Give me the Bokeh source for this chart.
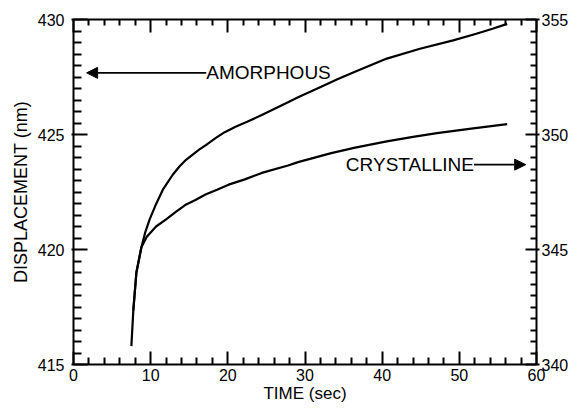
from bokeh.plotting import figure
from bokeh.models import (LinearAxis, Range1d, FixedTicker, Arrow,
                          NormalHead, Label, CustomLabelingPolicy)
from bokeh.embed import file_html
from bokeh.resources import INLINE

# ---- data ----
amor_t = [7.5, 7.75, 8.15, 8.8, 9.3, 9.87, 10.6, 11.58, 12.86, 13.7, 14.58,
          16.28, 17.2, 18.4, 19.6, 21.0, 22.5, 24.4, 27.8, 29.1, 32.1, 34.2,
          36.4, 40.6, 44.9, 49.2, 52.2, 54.3, 56.2]
amor_nm = [415.8, 417.35, 419.0, 420.1, 420.75, 421.31, 421.9, 422.6, 423.25,
           423.6, 423.9, 424.34, 424.55, 424.84, 425.1, 425.34, 425.55,
           425.85, 426.4, 426.62, 427.08, 427.4, 427.72, 428.3, 428.73,
           429.09, 429.38, 429.6, 429.81]

cryst_t = [7.75, 8.15, 8.8, 9.5, 10.7, 12.0, 13.3, 14.6, 15.8, 17.1, 18.6,
           20.1, 22.2, 24.4, 27.8, 29.1, 33.4, 36.5, 40.6, 44.0, 47.1, 51.8,
           56.2]
cryst_nm = [342.35, 344.0, 345.1, 345.55, 346.0, 346.31, 346.65, 346.96,
            347.15, 347.39, 347.6, 347.82, 348.05, 348.33, 348.65, 348.8,
            349.19, 349.43, 349.7, 349.9, 350.06, 350.27, 350.45]

x_range = (0, 60)
left_range = (415, 430)
right_range = (340, 355)
x_major = [0, 10, 20, 30, 40, 50, 60]
x_minor_step = 2
left_major = [415, 420, 425, 430]
right_major = [340, 345, 350, 355]
y_minor_step = 0.5

amor_label = "AMORPHOUS"
amor_label_pos = (17.2, 427.68)
amor_arrow_tip = (1.7, 427.68)
cryst_label = "CRYSTALLINE"
cryst_label_pos = (51.9, 348.69)
cryst_arrow_tip = (58.6, 348.69)

x_title = "TIME (sec)"
y_title = "DISPLACEMENT (nm)"

FONT = "Liberation Sans"
TICK = "black"


def minors(lo, hi, step, majors):
    n = int(round((hi - lo) / step))
    vals = [round(lo + i * step, 3) for i in range(n + 1)]
    return [v for v in vals if v not in majors]


p = figure(width=571, height=405, output_backend="svg", toolbar_location=None,
           x_range=Range1d(*x_range), y_range=Range1d(*left_range),
           x_axis_type=None, y_axis_type=None,
           min_border_left=73, min_border_right=30, min_border_top=19,
           min_border_bottom=39)
p.extra_y_ranges = {"right": Range1d(*right_range)}
p.grid.visible = False
p.outline_line_color = None


def style(ax, major_in, major_out, minor_in, standoff, fs="16px"):
    ax.axis_line_width = 2
    ax.axis_line_color = "black"
    ax.major_tick_line_width = 2
    ax.minor_tick_line_width = 2
    ax.major_tick_line_color = TICK
    ax.minor_tick_line_color = TICK
    ax.major_tick_in = major_in
    ax.major_tick_out = major_out
    ax.minor_tick_in = minor_in
    ax.minor_tick_out = 0
    ax.major_label_standoff = standoff
    ax.major_label_text_font = FONT
    ax.major_label_text_color = "black"
    ax.major_label_text_font_size = fs
    ax.axis_label_text_font = FONT
    ax.axis_label_text_font_style = "normal"
    ax.axis_label_text_font_size = "18px"
    ax.axis_label_text_color = "black"


bottom = LinearAxis(ticker=FixedTicker(ticks=x_major,
                                       minor_ticks=minors(*x_range, x_minor_step, x_major)),
                    axis_label=x_title)
style(bottom, 13, 0, 7, 4)
bottom.axis_label_text_font_size = "17px"
bottom.axis_label_standoff = 0
p.add_layout(bottom, "below")

top = LinearAxis(ticker=FixedTicker(ticks=x_major,
                                    minor_ticks=minors(*x_range, x_minor_step, x_major)),
                 major_label_policy=CustomLabelingPolicy(code="return []"))
style(top, 13, 0, 6, 0, fs="1px")
p.add_layout(top, "above")

left = LinearAxis(ticker=FixedTicker(ticks=left_major,
                                     minor_ticks=minors(*left_range, y_minor_step, left_major)),
                  axis_label=y_title)
style(left, 14, 2, 8, 7)
left.axis_label_standoff = 4
p.add_layout(left, "left")

right = LinearAxis(y_range_name="right",
                   ticker=FixedTicker(ticks=right_major,
                                      minor_ticks=minors(*right_range, y_minor_step, right_major)))
style(right, 11, 3, 6, 2)
p.add_layout(right, "right")

p.line(amor_t, amor_nm, line_color="black", line_width=2.2)
p.line(cryst_t, cryst_nm, line_color="black", line_width=2.2,
       y_range_name="right")

p.add_layout(Arrow(end=NormalHead(size=11, fill_color="black",
                                  line_color="black"),
                   x_start=amor_label_pos[0], y_start=amor_label_pos[1],
                   x_end=amor_arrow_tip[0], y_end=amor_arrow_tip[1],
                   line_width=1.8, line_color="black"))
p.add_layout(Label(x=amor_label_pos[0], y=amor_label_pos[1], text=amor_label,
                   text_font=FONT, text_font_size="19px", text_color="black",
                   text_align="left", text_baseline="middle"))

p.add_layout(Arrow(end=NormalHead(size=11, fill_color="black",
                                  line_color="black"),
                   x_start=cryst_label_pos[0], y_start=cryst_label_pos[1],
                   x_end=cryst_arrow_tip[0], y_end=cryst_arrow_tip[1],
                   line_width=1.8, line_color="black", y_range_name="right"))
p.add_layout(Label(x=cryst_label_pos[0], y=cryst_label_pos[1],
                   text=cryst_label, y_range_name="right",
                   text_font=FONT, text_font_size="19px", text_color="black",
                   text_align="right", text_baseline="middle"))

open("out.html", "w").write(file_html(p, INLINE))
